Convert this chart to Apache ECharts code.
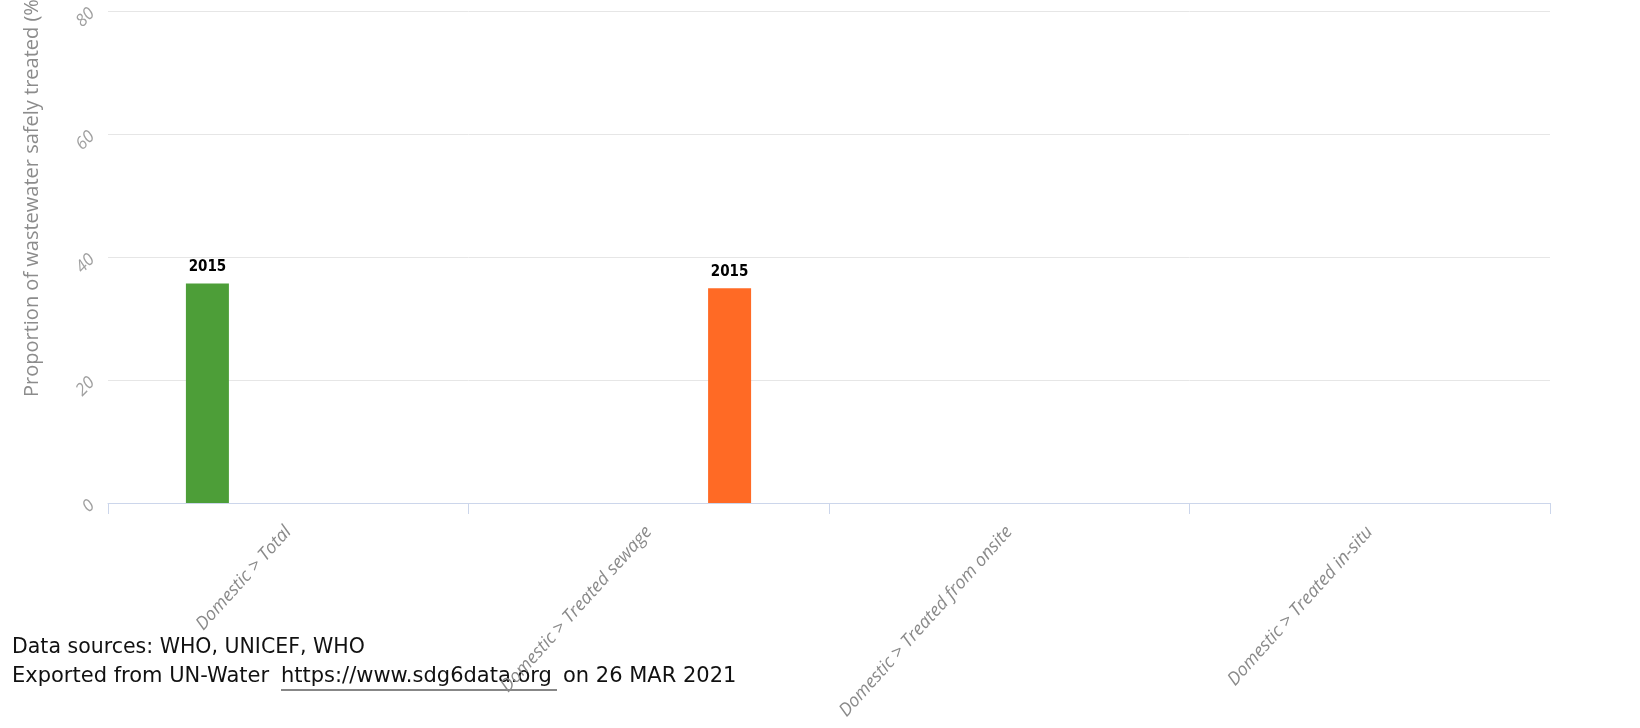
<!DOCTYPE html>
<html>
<head>
<meta charset="utf-8">
<script src="https://cdn.jsdelivr.net/npm/echarts@6/dist/echarts.min.js"></script>
<style>
html,body{margin:0;padding:0;background:#fff;}
#chart{width:1640px;height:728px;}
</style>
</head>
<body>
<div id="chart"></div>
<script>
const categories = ["Domestic > Total", "Domestic > Treated sewage", "Domestic > Treated from onsite", "Domestic > Treated in-situ"];
const totalValues = [35.7, null, null, null];
const middleValues = [null, null, null, null];
const sewageValues = [null, 34.9, null, null];
const years = ["2015", "2015", null, null];
const yTicks = [0, 20, 40, 60, 80];

const chart = echarts.init(document.getElementById('chart'));
const labelCfg = {
  show: true,
  position: 'top',
  distance: 9,
  color: '#000',
  fontWeight: 'bold',
  fontSize: 15,
  fontFamily: 'DejaVu Sans Condensed',
  formatter: p => years[p.dataIndex] || ''
};
chart.setOption({
  animation: false,
  grid: {left: 108, right: 90, top: 11, bottom: 225, containLabel: false},
  xAxis: {
    type: 'category',
    data: categories,
    axisLine: {lineStyle: {color: '#ccd6eb', width: 1}},
    axisTick: {show: true, length: 11, lineStyle: {color: '#ccd6eb'}},
    axisLabel: {rotate: 48, color: '#8a8a8a', fontSize: 18, fontStyle: 'italic', fontFamily: 'Open Sans', margin: 26}
  },
  yAxis: {
    type: 'value',
    min: yTicks[0], max: yTicks[yTicks.length - 1], interval: 20,
    axisLine: {show: false},
    axisTick: {show: false},
    splitLine: {lineStyle: {color: '#e6e6e6'}},
    axisLabel: {rotate: 45, color: '#a0a0a0', fontSize: 17, fontStyle: 'italic', fontFamily: 'Open Sans', margin: 16}
  },
  graphic: [
    {type: 'text', x: 32, y: 397, rotation: Math.PI / 2,
     style: {text: 'Proportion of wastewater safely treated (%)', fill: '#8c8c8c', font: '20px "Open Sans"', align: 'left', verticalAlign: 'middle'}},
    {type: 'text', x: 12, y: 648,
     style: {text: 'Data sources: WHO, UNICEF, WHO', fill: '#111', font: '20.5px "DejaVu Sans"', align: 'left', verticalAlign: 'middle'}},
    {type: 'text', x: 12, y: 677,
     style: {text: 'Exported from UN-Water', fill: '#111', font: '21px "DejaVu Sans"', align: 'left', verticalAlign: 'middle'}},
    {type: 'text', x: 281, y: 677,
     style: {text: 'https://www.sdg6data.org', fill: '#111', font: '21px "DejaVu Sans"', align: 'left', verticalAlign: 'middle'}},
    {type: 'line', shape: {x1: 281, y1: 690, x2: 557, y2: 690}, style: {stroke: '#111', lineWidth: 1.2}},
    {type: 'text', x: 563, y: 677,
     style: {text: 'on 26 MAR 2021', fill: '#111', font: '21px "DejaVu Sans"', align: 'left', verticalAlign: 'middle'}}
  ],
  series: [
    {type: 'bar', name: 'Total', data: totalValues, barWidth: 43, barGap: '88%', itemStyle: {color: '#4d9e38'}, label: labelCfg},
    {type: 'bar', name: 'Other', data: middleValues, barWidth: 43, barGap: '88%', itemStyle: {color: '#7cb5ec'}},
    {type: 'bar', name: 'Sewage', data: sewageValues, barWidth: 43, barGap: '88%', itemStyle: {color: '#ff6a25'}, label: labelCfg}
  ]
});
</script>
</body>
</html>
